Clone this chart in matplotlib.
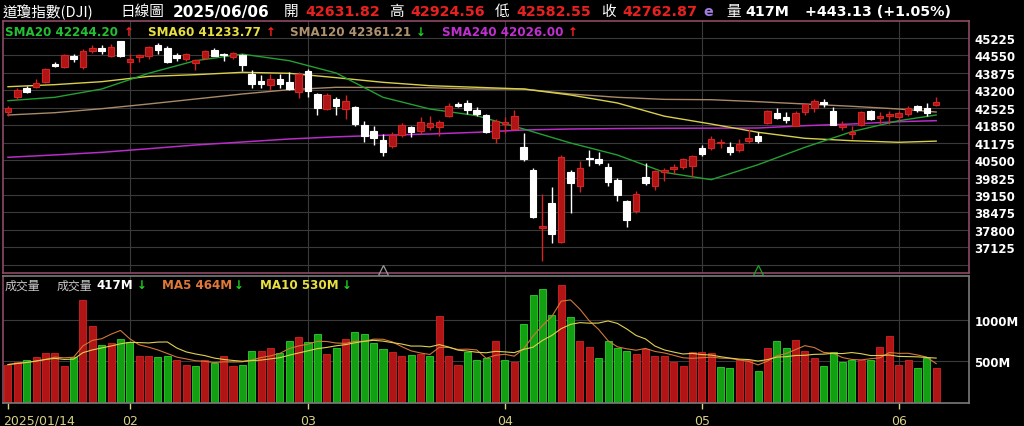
import numpy as np
import pandas as pd
import matplotlib
matplotlib.use("Agg")
import matplotlib.pyplot as plt
import matplotlib.transforms as mtransforms

# ---- data ----
opens = [42361, 42930, 43290, 43320, 43510, 44200, 44114, 44540, 44114, 44710,
         44840, 44540, 45090, 44290, 44480, 44540, 44950, 44840, 44560, 44400,
         44250, 44450, 44760, 44620, 44500, 44580, 43830, 43550, 43406, 43638,
         43535, 43147, 43960, 43070, 42478, 42880, 42490, 42543, 41870, 41614,
         41290, 41057, 41471, 41769, 41614, 41769, 41769, 42195, 42671, 42710,
         42450, 42245, 41343, 41897, 41703, 40995, 40128, 37872, 38840, 37342,
         40028, 39486, 40582, 40543, 40221, 39741, 38929, 38542, 39834, 39509,
         40051, 40155, 40221, 40283, 40956, 40956, 41170, 41018, 40902, 41228,
         41421, 41924, 42311, 42179, 41831, 42350, 42504, 42760, 42412, 41769,
         41508, 41858, 42389, 42127, 42195, 42156, 42284, 42582, 42504, 42632]
highs = [42610, 43290, 43360, 43650, 44070, 44290, 44600, 44600, 44800, 44950,
         44940, 44980, 45100, 44600, 44600, 44900, 45050, 44900, 44650, 44650,
         44400, 44760, 44830, 44640, 44670, 44600, 44000, 43800, 43820, 43850,
         43900, 43900, 44030, 43100, 43100, 42950, 43000, 42600, 42000, 41800,
         41500, 41600, 41950, 41800, 42150, 42200, 42050, 42700, 42750, 42820,
         42550, 42280, 42100, 42150, 42450, 41550, 40200, 39200, 39450, 40700,
         40100, 40450, 40900, 40800, 40400, 39800, 38950, 39300, 40390, 40100,
         40200, 40350, 40580, 40700, 41100, 41450, 41300, 41200, 41300, 41700,
         41600, 42450, 42500, 42350, 42400, 42680, 42850, 42850, 42550, 42000,
         41800, 42400, 42450, 42350, 42400, 42400, 42600, 42650, 42700, 42925]
lows = [42210, 42880, 43090, 43300, 43480, 44100, 44050, 44285, 44025, 44650,
        44620, 44500, 44500, 43880, 44300, 44400, 44600, 44250, 44330, 44350,
        44000, 44400, 44520, 44350, 44400, 43960, 43300, 43300, 43200, 43300,
        43200, 42900, 42930, 42250, 42420, 42250, 42100, 41800, 41200, 41100,
        40660, 40950, 41400, 41400, 41500, 41650, 41420, 42150, 42550, 42300,
        42200, 41550, 41150, 41550, 41650, 40450, 38250, 36610, 37300, 37300,
        38470, 39250, 40280, 40300, 39500, 38900, 37900, 38450, 39550, 39350,
        39700, 39950, 40150, 39830, 40650, 40900, 40950, 40700, 40800, 41150,
        41150, 41900, 42100, 41950, 41800, 42250, 42350, 42560, 41850, 41650,
        41300, 41800, 42050, 41900, 41900, 42050, 42200, 42380, 42200, 42583]
closes = [42518, 43222, 43153, 43488, 44026, 44157, 44565, 44424, 44714, 44850,
          44714, 44882, 44545, 44422, 44556, 44873, 44748, 44303, 44470, 44594,
          44369, 44711, 44546, 44556, 44628, 44177, 43428, 43461, 43621, 43433,
          43240, 43841, 43191, 42521, 43007, 42579, 42802, 41912, 41433, 41351,
          40814, 41488, 41842, 41581, 41965, 41953, 41985, 42583, 42588, 42455,
          42300, 41584, 42002, 41990, 42225, 40546, 38315, 37966, 37646, 40608,
          39594, 40213, 40525, 40369, 39669, 39142, 38170, 39187, 39607, 40093,
          40114, 40228, 40528, 40669, 40753, 41317, 41219, 40829, 41114, 41368,
          41249, 42410, 42140, 42051, 42323, 42655, 42792, 42677, 41860, 41859,
          41603, 42344, 42099, 42216, 42270, 42305, 42520, 42428, 42320, 42763]
volumes = [461, 488, 511, 551, 600, 600, 448, 547, 1232, 928,
           700, 719, 772, 728, 568, 560, 552, 560, 512, 461,
           449, 520, 480, 560, 449, 461, 629, 629, 657, 600,
           748, 788, 736, 824, 592, 657, 768, 852, 832, 719,
           652, 608, 568, 580, 592, 560, 1040, 560, 461, 608,
           512, 540, 740, 520, 497, 953, 1301, 1369, 1061, 1420,
           1029, 748, 672, 540, 748, 660, 629, 588, 648, 568,
           568, 488, 440, 612, 608, 600, 432, 424, 520, 520,
           388, 657, 740, 664, 752, 625, 545, 449, 617, 489,
           512, 516, 520, 672, 808, 461, 520, 420, 540, 417]

# moving averages of price, read at these bar positions
ma_idx = [0, 5, 10, 15, 20, 25, 30, 35, 40, 45, 50, 55, 60, 65, 70, 75, 80, 85, 90, 95, 99]
sma20 = [42799, 42930, 43251, 43859, 44347, 44600, 44347, 43870, 42930, 42477, 42218,
         41703, 41162, 40697, 40027, 39741, 40322, 40995, 41599, 42024, 42244]
sma60 = [43340, 43420, 43535, 43740, 43805, 43897, 43859, 43690, 43510, 43379, 43317,
         43251, 43019, 42710, 42200, 41897, 41576, 41343, 41250, 41189, 41234]
sma120 = [42245, 42334, 42489, 42671, 42864, 43058, 43225, 43317, 43310, 43302, 43251,
          43251, 43058, 42930, 42850, 42837, 42760, 42671, 42582, 42477, 42361]
sma240 = [40608, 40700, 40800, 40940, 41084, 41200, 41316, 41400, 41460, 41510, 41576,
          41665, 41703, 41720, 41730, 41735, 41742, 41831, 41897, 41986, 42026]

month_idx = [0, 13, 32, 53, 74, 95]
month_lbl = ["2025/01/14", "02", "03", "04", "05", "06"]
price_ticks = [37125, 37800, 38475, 39150, 39825, 40500, 41175, 41850,
               42525, 43200, 43875, 44550, 45225]
vol_ticks = [500, 1000]
mark_idx = [40, 80]
mark_col = ["#9a9a9a", "#20a020"]

W, H = 1024, 427
BG = "#000000"
RED = "#b01414"
RED_E = "#d42424"
GRN = "#12a012"
GRN_E = "#2ed02e"
GRID = "#3a3a3a"
FRAME = "#8c4a66"
TICKC = "#d8d088"
CJK = ["Noto Sans CJK TC", "DejaVu Sans"]

fig = plt.figure(figsize=(W / 100, H / 100), dpi=100, facecolor=BG)


def box(l, t, r, b):
    return [l / W, 1 - b / H, (r - l) / W, (b - t) / H]


def ftxt(x, y, s, color="white", size=9, weight="bold", family=None, **kw):
    fig.text(x / W, 1 - y / H, s, color=color, fontsize=size, fontweight=weight,
             family=family or ["DejaVu Sans"], va="center", ha="left", **kw)


x = np.arange(len(closes))
o = np.array(opens); c = np.array(closes); hi = np.array(highs); lo = np.array(lows)
up = c >= o

# ---- price panel ----
ax = fig.add_axes(box(3, 22, 969, 274), facecolor=BG)
ax.set_xlim(-0.53, 102.5)
ax.set_ylim(36130, 45883)
for t in price_ticks + [36450]:
    ax.axhline(t, color=GRID, lw=0.8, zorder=0)
for m in month_idx[1:]:
    ax.axvline(m, color=GRID, lw=0.8, zorder=0)

ax.vlines(x[up], lo[up], hi[up], color=RED_E, lw=1, zorder=2)
ax.vlines(x[~up], lo[~up], hi[~up], color="white", lw=1, zorder=2)
body_h = np.maximum(np.abs(c - o), 25)
ax.bar(x[up], body_h[up], bottom=np.minimum(o, c)[up], width=0.7,
       color=RED, edgecolor=RED_E, lw=0.8, zorder=3)
ax.bar(x[~up], body_h[~up], bottom=np.minimum(o, c)[~up], width=0.7,
       color="white", edgecolor="white", lw=0.8, zorder=3)

ax.plot(ma_idx, sma240, color="#b82cc8", lw=1.1, zorder=1)
ax.plot(ma_idx, sma120, color="#a88a68", lw=1.0, zorder=1)
ax.plot(ma_idx, sma60, color="#d8d048", lw=1.0, zorder=1)
ax.plot(ma_idx, sma20, color="#22a032", lw=1.0, zorder=1)

trans = mtransforms.blended_transform_factory(ax.transData, ax.transAxes)
for mi, mc in zip(mark_idx, mark_col):
    ax.plot([mi], [0.012], marker="^", ms=7, mfc="none", mec=mc, mew=0.9,
            transform=trans, clip_on=False, zorder=5)

ax.yaxis.tick_right()
ax.set_yticks(price_ticks)
ax.set_yticklabels([str(t) for t in price_ticks], color="white",
                   fontsize=8.5, fontweight="bold")
ax.tick_params(axis="y", length=0, pad=4)
ax.set_xticks([])
for s in ax.spines.values():
    s.set_color(FRAME)
    s.set_linewidth(1.2)

# ---- volume panel ----
av = fig.add_axes(box(3, 277, 969, 404), facecolor=BG)
av.set_xlim(-0.53, 102.5)
av.set_ylim(0, 1523)
for t in vol_ticks:
    av.axhline(t, color=GRID, lw=0.8, zorder=0)
for m in month_idx[1:]:
    av.axvline(m, color=GRID, lw=0.8, zorder=0)

vol = np.array(volumes)
vup = np.concatenate([[c[0] >= o[0]], c[1:] >= c[:-1]])
av.bar(x[vup], vol[vup], width=0.75, color=RED, edgecolor=RED_E, lw=0.6, zorder=2)
av.bar(x[~vup], vol[~vup], width=0.75, color=GRN, edgecolor=GRN_E, lw=0.6, zorder=2)
vs = pd.Series(volumes, dtype=float)
av.plot(x, vs.rolling(5, min_periods=1).mean(), color="#d07838", lw=0.8, zorder=3)
av.plot(x, vs.rolling(10, min_periods=1).mean(), color="#e0d050", lw=0.8, zorder=3)

av.yaxis.tick_right()
av.set_yticks(vol_ticks)
av.set_yticklabels([f"{t}M" for t in vol_ticks], color="white",
                   fontsize=8.5, fontweight="bold")
av.tick_params(axis="y", length=0, pad=4)
av.set_xticks(month_idx)
av.set_xticklabels([])
av.tick_params(axis="x", colors=TICKC, length=4, width=1, direction="out")
vtrans = mtransforms.blended_transform_factory(av.transData, av.transAxes)
for i, (mi, ml) in enumerate(zip(month_idx, month_lbl)):
    av.text(mi - 0.5 if i == 0 else mi, -0.135, ml, transform=vtrans,
            color=TICKC, fontsize=9, ha="left" if i == 0 else "center", va="center")
for s in av.spines.values():
    s.set_color("#7a7a7a")
    s.set_linewidth(1.2)
av.spines["left"].set_color(FRAME)

# ---- header ----
HR = "#e82020"
ftxt(3, 12, "道瓊指數(DJI)", size=10.5, weight="normal", family=CJK)
ftxt(120, 12, "日線圖", size=10.5, weight="normal", family=CJK)
ftxt(173, 12, "2025/06/06", size=11, weight="bold")
ftxt(284, 12, "開", size=10.5, weight="normal", family=CJK)
ftxt(305, 12, "42631.82", color=HR, size=10.3)
ftxt(389, 12, "高", size=10.5, weight="normal", family=CJK)
ftxt(410, 12, "42924.56", color=HR, size=10.3)
ftxt(495, 12, "低", size=10.5, weight="normal", family=CJK)
ftxt(516, 12, "42582.55", color=HR, size=10.3)
ftxt(601, 12, "收", size=10.5, weight="normal", family=CJK)
ftxt(622, 12, "42762.87", color=HR, size=10.3)
ftxt(703, 12, "e", color="#a07ce0", size=10.3)
ftxt(726, 12, "量", size=10.5, weight="normal", family=CJK)
ftxt(745, 12, "417M", size=10.3)
ftxt(805, 12, "+443.13 (+1.05%)", size=10.3)

# ---- SMA legend ----
ftxt(5, 32, "SMA20 42244.20", color="#22c032", size=8.6)
ftxt(124, 32, "↑", color="#ff2020", size=8.6)
ftxt(148, 32, "SMA60 41233.77", color="#e8e040", size=8.6)
ftxt(266, 32, "↑", color="#ff2020", size=8.6)
ftxt(290, 32, "SMA120 42361.21", color="#b0926e", size=8.6)
ftxt(416, 32, "↓", color="#20d020", size=8.6)
ftxt(442, 32, "SMA240 42026.00", color="#c030d0", size=8.6)
ftxt(568, 32, "↑", color="#ff2020", size=8.6)

# ---- volume legend ----
ftxt(5, 286, "成交量", color="#c8c8c8", size=8.6, weight="normal", family=CJK)
ftxt(57, 286, "成交量", color="#c8c8c8", size=8.6, weight="normal", family=CJK)
ftxt(96, 286, "417M", color="white", size=8.6)
ftxt(137, 286, "↓", color="#20d020", size=8.6)
ftxt(162, 286, "MA5 464M", color="#e07838", size=8.6)
ftxt(234, 286, "↓", color="#20d020", size=8.6)
ftxt(260, 286, "MA10 530M", color="#e8e040", size=8.6)
ftxt(342, 286, "↓", color="#20d020", size=8.6)

fig.savefig("out.png", dpi=100, facecolor=BG)
